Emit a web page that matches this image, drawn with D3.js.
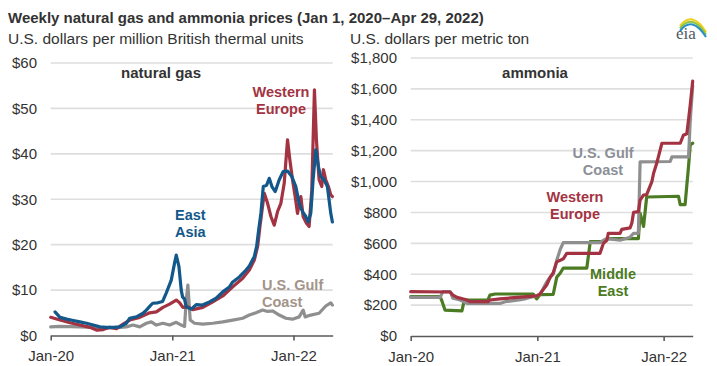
<!DOCTYPE html>
<html>
<head>
<meta charset="utf-8">
<script src="https://cdn.jsdelivr.net/npm/d3@7"></script>
<style>
  html, body { margin: 0; padding: 0; background: #fff; }
  svg { display: block; font-family: "Liberation Sans", Arial, sans-serif; }
</style>
</head>
<body>
<svg id="chart" width="717" height="366"></svg>
<script>
// ---------------- DATA ----------------
const titleText = "Weekly natural gas and ammonia prices (Jan 1, 2020\u2013Apr 29, 2022)";
const leftUnit = "U.S. dollars per million British thermal units";
const rightUnit = "U.S. dollars per metric ton";

const xTickDates = ["2020-01-01", "2021-01-01", "2022-01-01"];
const xTickLabels = ["Jan-20", "Jan-21", "Jan-22"];
const gasTicks = [0, 10, 20, 30, 40, 50, 60];
const ammoniaTicks = [0, 200, 400, 600, 800, 1000, 1200, 1400, 1600, 1800];

// Natural gas ($/MMBtu)
const eastAsiaDates = ["2020-01-14","2020-01-29","2020-02-18","2020-03-09","2020-03-29","2020-04-18","2020-05-08","2020-05-28","2020-06-17","2020-07-07","2020-07-27","2020-08-16","2020-08-26","2020-09-15","2020-10-05","2020-10-15","2020-10-25","2020-11-03","2020-11-18","2020-12-03","2020-12-14","2020-12-29","2021-01-08","2021-01-13","2021-01-21","2021-01-28","2021-02-01","2021-02-07","2021-02-12","2021-02-27","2021-03-14","2021-04-02","2021-04-23","2021-05-13","2021-06-02","2021-06-22","2021-07-02","2021-07-22","2021-08-11","2021-08-21","2021-09-05","2021-09-12","2021-09-18","2021-09-25","2021-10-02","2021-10-12","2021-10-20","2021-10-28","2021-11-07","2021-11-19","2021-12-01","2021-12-14","2021-12-27","2022-01-08","2022-01-18","2022-01-28","2022-02-07","2022-02-14","2022-02-22","2022-03-01","2022-03-09","2022-03-17","2022-03-24","2022-04-03","2022-04-13","2022-04-23","2022-04-28"];
const eastAsiaValues = [5.2,4.0,3.6,3.3,3.0,2.7,2.3,1.9,1.8,1.8,1.9,2.7,3.8,4.1,4.9,5.6,6.4,7.1,7.2,7.5,9.4,12.2,16.0,17.7,15.2,10.0,8.5,8.0,6.3,5.8,6.8,6.7,7.4,8.2,9.6,10.7,11.8,12.9,14.4,15.3,17.4,19.6,23.2,27.0,32.8,33.1,34.6,32.8,31.7,34.3,36.1,36.2,35.0,32.8,29.1,27.3,26.2,25.0,26.9,34.3,40.9,37.2,35.0,34.3,32.8,27.0,25.0];

const westEuropeGasDates = ["2020-01-01","2020-01-29","2020-02-28","2020-03-29","2020-04-28","2020-05-18","2020-06-07","2020-06-27","2020-07-17","2020-08-06","2020-08-26","2020-09-25","2020-10-25","2020-11-14","2020-12-04","2020-12-24","2021-01-13","2021-01-23","2021-02-02","2021-02-17","2021-03-04","2021-04-03","2021-05-03","2021-06-02","2021-07-02","2021-08-01","2021-08-21","2021-09-05","2021-09-15","2021-09-22","2021-09-29","2021-10-05","2021-10-15","2021-10-25","2021-11-04","2021-11-14","2021-11-24","2021-12-04","2021-12-14","2021-12-21","2021-12-29","2022-01-06","2022-01-13","2022-01-23","2022-01-30","2022-02-09","2022-02-17","2022-02-25","2022-03-05","2022-03-11","2022-03-19","2022-03-27","2022-04-01","2022-04-08","2022-04-16","2022-04-23","2022-04-28"];
const westEuropeGasValues = [4.0,3.4,2.8,2.3,1.8,1.2,1.3,1.8,1.5,2.5,3.4,4.0,5.0,5.2,6.2,6.9,7.8,7.2,6.2,6.3,5.7,6.2,7.4,8.7,10.7,12.6,14.4,16.6,19.6,24.0,28.0,31.3,29.1,26.2,24.3,27.3,29.1,33.5,43.1,38.7,34.3,30.6,26.9,30.6,26.2,24.7,24.0,32.0,54.1,43.1,34.3,32.8,36.5,34.3,32.8,31.0,30.6];

const usGulfGasDates = ["2020-01-01","2020-01-29","2020-03-29","2020-05-07","2020-06-17","2020-07-27","2020-08-16","2020-09-05","2020-09-25","2020-10-15","2020-10-30","2020-11-14","2020-12-04","2020-12-24","2021-01-13","2021-01-28","2021-02-07","2021-02-12","2021-02-17","2021-02-24","2021-03-09","2021-04-03","2021-05-03","2021-06-02","2021-07-02","2021-08-01","2021-08-21","2021-09-10","2021-09-30","2021-10-15","2021-10-30","2021-11-19","2021-12-09","2021-12-29","2022-01-18","2022-01-30","2022-02-05","2022-02-22","2022-03-19","2022-04-08","2022-04-23","2022-04-28"];
const usGulfGasValues = [1.9,2.0,1.9,1.8,1.7,1.8,1.9,2.3,1.9,2.7,3.0,2.3,2.7,2.3,2.9,2.3,2.0,7.8,11.1,3.4,2.7,2.5,2.7,3.0,3.4,3.8,4.5,5.0,5.6,5.3,5.4,4.5,3.8,3.6,4.1,5.6,4.1,4.5,4.9,6.5,7.2,6.7];

// Ammonia ($/metric ton)
const usGulfNh3Dates = ["2020-01-01","2020-03-26","2020-04-03","2020-04-24","2020-05-02","2020-05-23","2020-06-12","2020-09-15","2020-09-30","2020-11-14","2020-12-02","2020-12-20","2020-12-30","2021-01-09","2021-01-28","2021-02-07","2021-02-16","2021-02-26","2021-03-08","2021-03-17","2021-07-01","2021-07-11","2021-07-21","2021-08-28","2021-09-26","2021-10-06","2021-10-20","2021-10-25","2022-01-20","2022-01-25","2022-03-14","2022-03-19","2022-03-26"];
const usGulfNh3Values = [250,250,287,287,244,233,211,211,222,235,244,255,260,270,350,380,400,490,560,605,605,620,630,620,640,665,665,1128,1130,1160,1160,1400,1620];

const westEuropeNh3Dates = ["2020-01-01","2020-04-24","2020-05-02","2020-05-14","2020-06-12","2020-06-20","2020-08-11","2020-08-17","2020-09-15","2020-11-03","2020-12-02","2020-12-30","2021-01-08","2021-01-18","2021-01-28","2021-02-07","2021-02-16","2021-02-26","2021-03-08","2021-03-17","2021-03-27","2021-07-01","2021-07-11","2021-07-21","2021-07-25","2021-08-28","2021-09-02","2021-09-26","2021-10-01","2021-10-06","2021-10-20","2021-10-25","2021-11-04","2021-11-13","2021-11-28","2021-12-03","2021-12-12","2021-12-27","2022-02-18","2022-02-27","2022-03-09","2022-03-14","2022-03-19","2022-03-26"];
const westEuropeNh3Values = [287,285,265,250,233,222,222,233,240,250,255,260,270,300,330,380,410,480,490,500,535,535,600,620,665,665,690,700,730,800,805,880,913,915,1000,1054,1118,1248,1248,1300,1310,1400,1500,1650];

const middleEastDates = ["2020-01-01","2020-03-26","2020-04-01","2020-04-09","2020-05-28","2020-06-03","2020-06-09","2020-08-11","2020-08-17","2020-09-01","2020-12-20","2020-12-30","2021-01-09","2021-02-16","2021-02-26","2021-03-08","2021-03-17","2021-05-24","2021-06-03","2021-07-11","2021-07-21","2021-10-20","2021-10-25","2021-11-04","2021-11-13","2022-02-13","2022-02-18","2022-03-04","2022-03-14","2022-03-19","2022-03-26"];
const middleEastValues = [255,255,222,168,163,222,233,233,265,272,272,240,268,270,380,406,440,440,612,612,630,630,795,710,900,905,850,850,1100,1240,1248];

// ---------------- STYLE ----------------
const C = {
  blue: "#13588a", red: "#a33342", gray: "#8f8f8f", green: "#4b7b22",
  grid: "#dedede", axis: "#5a5a5a", text: "#333333",
  grayLabelL: "#a39489", grayLabelR: "#8c8f97"
};

const parse = d3.timeParse("%Y-%m-%d");
const svg = d3.select("#chart");

// Titles
svg.append("text").attr("x", 8).attr("y", 22.5)
  .attr("font-size", 15).attr("font-weight", "bold").attr("fill", C.text).text(titleText);
svg.append("text").attr("x", 8).attr("y", 44)
  .attr("font-size", 15.5).attr("fill", C.text).text(leftUnit);
svg.append("text").attr("x", 350).attr("y", 44)
  .attr("font-size", 15.5).attr("fill", C.text).text(rightUnit);

// EIA logo
const logo = svg.append("g");
const arc = (col, dy) => logo.append("path")
  .attr("d", `M ${680} ${30 + dy} Q ${692} ${14 + dy} ${706} ${36 + dy}`)
  .attr("fill", "none").attr("stroke", col).attr("stroke-width", 2.2);
arc("#f2cf1d", -4);
arc("#8dc63f", -1.5);
arc("#2a8fc9", 1);
logo.append("text").attr("x", 676).attr("y", 39).attr("font-family", "Liberation Serif, serif")
  .attr("font-size", 17).attr("fill", "#4e5a66").text("eia");

function panel(opts) {
  const x = d3.scaleTime().domain([parse("2020-01-01"), parse(opts.endDate)]).range([opts.x0, opts.x1]);
  const y = d3.scaleLinear().domain([0, opts.yTicks[opts.yTicks.length - 1]]).range([opts.yBottom, opts.yTop]);
  const g = svg.append("g");

  // gridlines
  g.selectAll(".grid").data(opts.yTicks.filter(v => v > 0)).join("line")
    .attr("x1", opts.x0).attr("x2", opts.x1)
    .attr("y1", d => y(d)).attr("y2", d => y(d))
    .attr("stroke", C.grid).attr("stroke-width", 1.6);

  // y tick labels
  const yAx = g.append("g").attr("transform", `translate(${opts.labelX},0)`)
    .call(d3.axisLeft(y).tickValues(opts.yTicks).tickSize(0).tickPadding(0).tickFormat(opts.fmt));
  yAx.select(".domain").remove();
  yAx.selectAll("text").attr("font-size", 15).attr("fill", C.text)
    .attr("font-family", "Liberation Sans, Arial, sans-serif");

  // x axis
  const xAx = g.append("g").attr("transform", `translate(0,${opts.yBottom})`)
    .call(d3.axisBottom(x).tickValues(xTickDates.map(parse)).tickSizeInner(5).tickSizeOuter(0)
      .tickPadding(10).tickFormat((d, i) => xTickLabels[i]));
  xAx.select(".domain").attr("stroke", C.axis).attr("stroke-width", 1.6);
  xAx.selectAll(".tick line").attr("stroke", C.axis).attr("stroke-width", 1.6);
  xAx.selectAll("text").attr("font-size", 15).attr("fill", C.text)
    .attr("font-family", "Liberation Sans, Arial, sans-serif");

  // lines
  const line = d3.line().x(d => x(d[0])).y(d => y(d[1])).curve(d3.curveLinear);
  opts.series.forEach(s => {
    const pts = s.dates.map((d, i) => [parse(d), s.values[i]]);
    g.append("path").datum(pts).attr("d", line)
      .attr("fill", "none").attr("stroke", s.color).attr("stroke-width", 3.2)
      .attr("stroke-linejoin", "round").attr("stroke-linecap", "round");
  });

  // labels
  opts.labels.forEach(l => {
    const t = g.append("text").attr("x", l.x).attr("y", l.y).attr("text-anchor", l.anchor || "middle")
      .attr("font-size", l.size || 14.5).attr("font-weight", "bold").attr("fill", l.color);
    l.lines.forEach((ln, i) => t.append("tspan").attr("x", l.x).attr("dy", i === 0 ? 0 : 17).text(ln));
  });
}

panel({
  x0: 50.7, x1: 332.7, yTop: 63, yBottom: 335.5, labelX: 37, endDate: "2022-04-29",
  yTicks: gasTicks, fmt: d => "$" + d,
  series: [
    { dates: usGulfGasDates, values: usGulfGasValues, color: C.gray },
    { dates: westEuropeGasDates, values: westEuropeGasValues, color: C.red },
    { dates: eastAsiaDates, values: eastAsiaValues, color: C.blue }
  ],
  labels: [
    { x: 161, y: 78, lines: ["natural gas"], color: C.text, size: 15 },
    { x: 281, y: 97, lines: ["Western", "Europe"], color: C.red },
    { x: 175, y: 220, lines: ["East", "Asia"], color: C.blue, anchor: "start" },
    { x: 262, y: 290, lines: ["U.S. Gulf", "Coast"], color: C.grayLabelL, anchor: "start" }
  ]
});

panel({
  x0: 410.7, x1: 692.7, yTop: 58, yBottom: 336, labelX: 397, endDate: "2022-03-26",
  yTicks: ammoniaTicks, fmt: d => "$" + d3.format(",")(d),
  series: [
    { dates: middleEastDates, values: middleEastValues, color: C.green },
    { dates: usGulfNh3Dates, values: usGulfNh3Values, color: C.gray },
    { dates: westEuropeNh3Dates, values: westEuropeNh3Values, color: C.red }
  ],
  labels: [
    { x: 535, y: 78, lines: ["ammonia"], color: C.text, size: 15 },
    { x: 603, y: 158, lines: ["U.S. Gulf", "Coast"], color: C.grayLabelR },
    { x: 575, y: 202, lines: ["Western", "Europe"], color: C.red },
    { x: 613, y: 279, lines: ["Middle", "East"], color: C.green }
  ]
});
</script>
</body>
</html>
